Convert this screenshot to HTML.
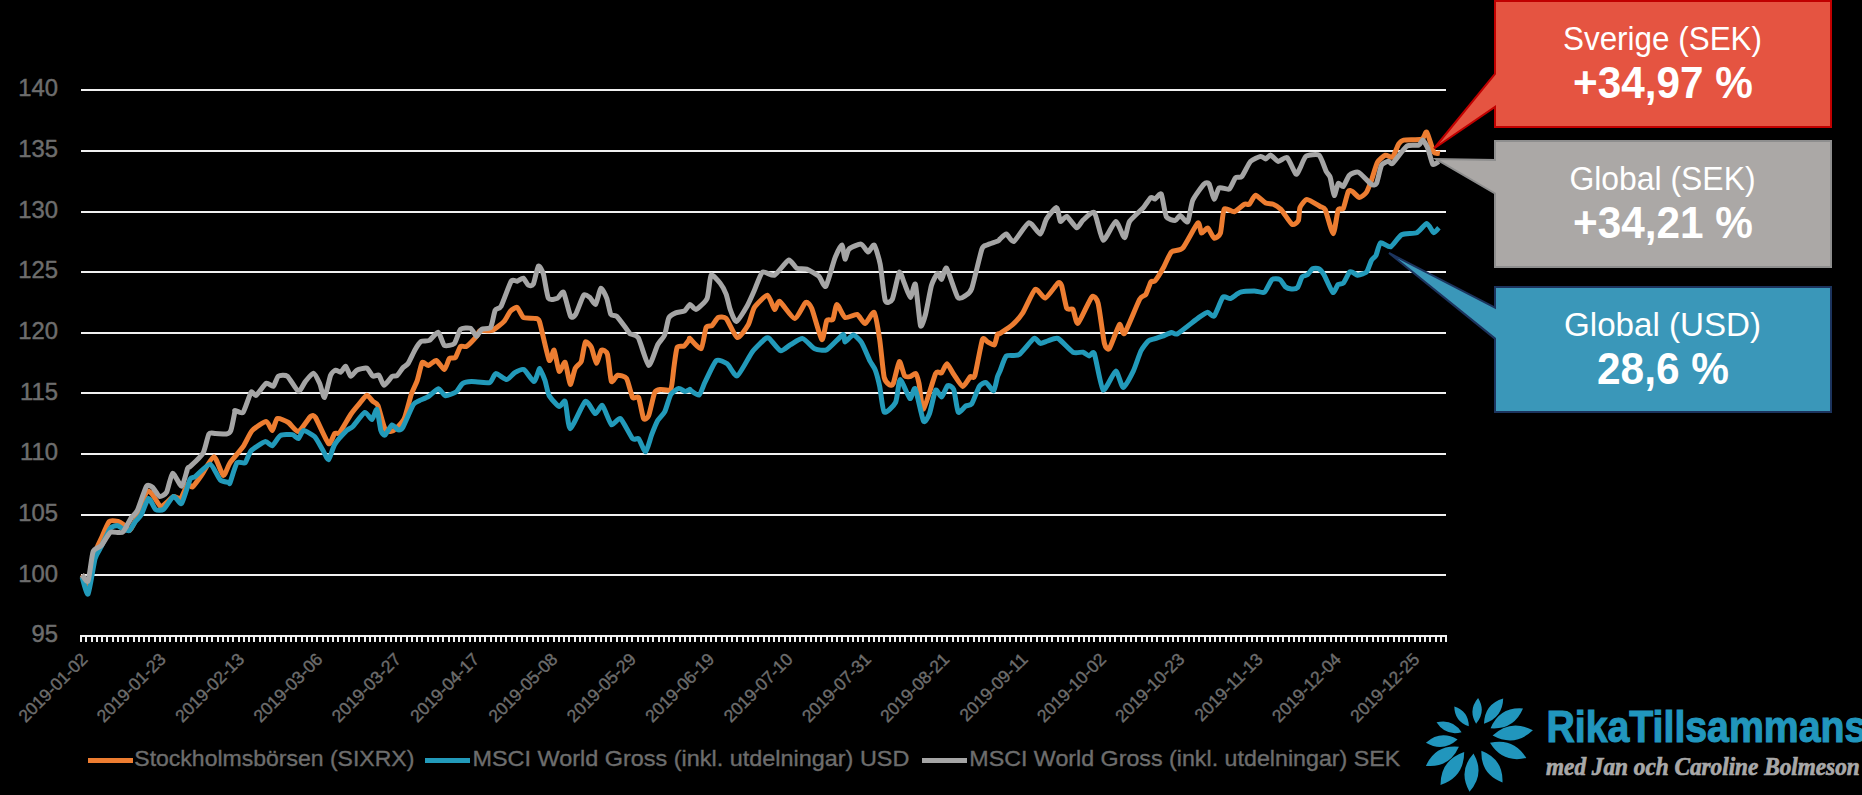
<!DOCTYPE html><html><head><meta charset="utf-8"><style>
html,body{margin:0;padding:0;background:#000;width:1862px;height:795px;overflow:hidden}
svg{display:block}
text{font-family:"Liberation Sans",sans-serif}
</style></head><body>
<svg width="1862" height="795" viewBox="0 0 1862 795">
<rect x="0" y="0" width="1862" height="795" fill="#000"/>
<rect x="81" y="89" width="1365" height="2" fill="#F0F0F0"/>
<rect x="81" y="150" width="1365" height="2" fill="#F0F0F0"/>
<rect x="81" y="211" width="1365" height="2" fill="#F0F0F0"/>
<rect x="81" y="271" width="1365" height="2" fill="#F0F0F0"/>
<rect x="81" y="332" width="1365" height="2" fill="#F0F0F0"/>
<rect x="81" y="392" width="1365" height="2" fill="#F0F0F0"/>
<rect x="81" y="453" width="1365" height="2" fill="#F0F0F0"/>
<rect x="81" y="514" width="1365" height="2" fill="#F0F0F0"/>
<rect x="81" y="574" width="1365" height="2" fill="#F0F0F0"/>
<rect x="81" y="635" width="1366" height="2" fill="#F0F0F0"/>
<path d="M81 635V642M86 635V642M92 635V642M97 635V642M102 635V642M107 635V642M113 635V642M118 635V642M123 635V642M128 635V642M134 635V642M139 635V642M144 635V642M149 635V642M155 635V642M160 635V642M165 635V642M170 635V642M176 635V642M181 635V642M186 635V642M191 635V642M197 635V642M202 635V642M207 635V642M212 635V642M218 635V642M223 635V642M228 635V642M233 635V642M239 635V642M244 635V642M249 635V642M254 635V642M260 635V642M265 635V642M270 635V642M275 635V642M281 635V642M286 635V642M291 635V642M296 635V642M302 635V642M307 635V642M312 635V642M317 635V642M323 635V642M328 635V642M333 635V642M338 635V642M344 635V642M349 635V642M354 635V642M359 635V642M365 635V642M370 635V642M375 635V642M380 635V642M386 635V642M391 635V642M396 635V642M401 635V642M407 635V642M412 635V642M417 635V642M422 635V642M428 635V642M433 635V642M438 635V642M443 635V642M449 635V642M454 635V642M459 635V642M464 635V642M470 635V642M475 635V642M480 635V642M485 635V642M491 635V642M496 635V642M501 635V642M506 635V642M512 635V642M517 635V642M522 635V642M527 635V642M533 635V642M538 635V642M543 635V642M548 635V642M554 635V642M559 635V642M564 635V642M569 635V642M575 635V642M580 635V642M585 635V642M590 635V642M596 635V642M601 635V642M606 635V642M611 635V642M617 635V642M622 635V642M627 635V642M632 635V642M638 635V642M643 635V642M648 635V642M653 635V642M659 635V642M664 635V642M669 635V642M674 635V642M680 635V642M685 635V642M690 635V642M695 635V642M701 635V642M706 635V642M711 635V642M716 635V642M722 635V642M727 635V642M732 635V642M737 635V642M743 635V642M748 635V642M753 635V642M758 635V642M764 635V642M769 635V642M774 635V642M779 635V642M785 635V642M790 635V642M795 635V642M800 635V642M806 635V642M811 635V642M816 635V642M821 635V642M827 635V642M832 635V642M837 635V642M842 635V642M848 635V642M853 635V642M858 635V642M863 635V642M869 635V642M874 635V642M879 635V642M884 635V642M890 635V642M895 635V642M900 635V642M905 635V642M911 635V642M916 635V642M921 635V642M926 635V642M932 635V642M937 635V642M942 635V642M947 635V642M953 635V642M958 635V642M963 635V642M968 635V642M974 635V642M979 635V642M984 635V642M989 635V642M995 635V642M1000 635V642M1005 635V642M1010 635V642M1016 635V642M1021 635V642M1026 635V642M1031 635V642M1037 635V642M1042 635V642M1047 635V642M1052 635V642M1058 635V642M1063 635V642M1068 635V642M1073 635V642M1079 635V642M1084 635V642M1089 635V642M1094 635V642M1100 635V642M1105 635V642M1110 635V642M1115 635V642M1121 635V642M1126 635V642M1131 635V642M1136 635V642M1142 635V642M1147 635V642M1152 635V642M1157 635V642M1163 635V642M1168 635V642M1173 635V642M1178 635V642M1184 635V642M1189 635V642M1194 635V642M1199 635V642M1205 635V642M1210 635V642M1215 635V642M1220 635V642M1226 635V642M1231 635V642M1236 635V642M1241 635V642M1247 635V642M1252 635V642M1257 635V642M1262 635V642M1268 635V642M1273 635V642M1278 635V642M1283 635V642M1289 635V642M1294 635V642M1299 635V642M1304 635V642M1310 635V642M1315 635V642M1320 635V642M1325 635V642M1331 635V642M1336 635V642M1341 635V642M1346 635V642M1352 635V642M1357 635V642M1362 635V642M1367 635V642M1373 635V642M1378 635V642M1383 635V642M1388 635V642M1394 635V642M1399 635V642M1404 635V642M1409 635V642M1415 635V642M1420 635V642M1425 635V642M1430 635V642M1436 635V642M1441 635V642M1446 635V642" stroke="#F0F0F0" stroke-width="2" fill="none"/>
<text x="57.9" y="642.4" text-anchor="end" font-size="23.8" fill="#6D6D6D" stroke="#6D6D6D" stroke-width="0.45">95</text>
<text x="57.9" y="581.7" text-anchor="end" font-size="23.8" fill="#6D6D6D" stroke="#6D6D6D" stroke-width="0.45">100</text>
<text x="57.9" y="521.1" text-anchor="end" font-size="23.8" fill="#6D6D6D" stroke="#6D6D6D" stroke-width="0.45">105</text>
<text x="57.9" y="460.4" text-anchor="end" font-size="23.8" fill="#6D6D6D" stroke="#6D6D6D" stroke-width="0.45">110</text>
<text x="57.9" y="399.7" text-anchor="end" font-size="23.8" fill="#6D6D6D" stroke="#6D6D6D" stroke-width="0.45">115</text>
<text x="57.9" y="339.1" text-anchor="end" font-size="23.8" fill="#6D6D6D" stroke="#6D6D6D" stroke-width="0.45">120</text>
<text x="57.9" y="278.4" text-anchor="end" font-size="23.8" fill="#6D6D6D" stroke="#6D6D6D" stroke-width="0.45">125</text>
<text x="57.9" y="217.7" text-anchor="end" font-size="23.8" fill="#6D6D6D" stroke="#6D6D6D" stroke-width="0.45">130</text>
<text x="57.9" y="157.1" text-anchor="end" font-size="23.8" fill="#6D6D6D" stroke="#6D6D6D" stroke-width="0.45">135</text>
<text x="57.9" y="96.4" text-anchor="end" font-size="23.8" fill="#6D6D6D" stroke="#6D6D6D" stroke-width="0.45">140</text>
<text transform="translate(88.6,660.3) rotate(-45)" text-anchor="end" font-size="17.4" fill="#6D6D6D" stroke="#6D6D6D" stroke-width="0.4">2019-01-02</text>
<text transform="translate(166.9,660.3) rotate(-45)" text-anchor="end" font-size="17.4" fill="#6D6D6D" stroke="#6D6D6D" stroke-width="0.4">2019-01-23</text>
<text transform="translate(245.3,660.3) rotate(-45)" text-anchor="end" font-size="17.4" fill="#6D6D6D" stroke="#6D6D6D" stroke-width="0.4">2019-02-13</text>
<text transform="translate(323.6,660.3) rotate(-45)" text-anchor="end" font-size="17.4" fill="#6D6D6D" stroke="#6D6D6D" stroke-width="0.4">2019-03-06</text>
<text transform="translate(402.0,660.3) rotate(-45)" text-anchor="end" font-size="17.4" fill="#6D6D6D" stroke="#6D6D6D" stroke-width="0.4">2019-03-27</text>
<text transform="translate(480.4,660.3) rotate(-45)" text-anchor="end" font-size="17.4" fill="#6D6D6D" stroke="#6D6D6D" stroke-width="0.4">2019-04-17</text>
<text transform="translate(558.7,660.3) rotate(-45)" text-anchor="end" font-size="17.4" fill="#6D6D6D" stroke="#6D6D6D" stroke-width="0.4">2019-05-08</text>
<text transform="translate(637.0,660.3) rotate(-45)" text-anchor="end" font-size="17.4" fill="#6D6D6D" stroke="#6D6D6D" stroke-width="0.4">2019-05-29</text>
<text transform="translate(715.4,660.3) rotate(-45)" text-anchor="end" font-size="17.4" fill="#6D6D6D" stroke="#6D6D6D" stroke-width="0.4">2019-06-19</text>
<text transform="translate(793.8,660.3) rotate(-45)" text-anchor="end" font-size="17.4" fill="#6D6D6D" stroke="#6D6D6D" stroke-width="0.4">2019-07-10</text>
<text transform="translate(872.1,660.3) rotate(-45)" text-anchor="end" font-size="17.4" fill="#6D6D6D" stroke="#6D6D6D" stroke-width="0.4">2019-07-31</text>
<text transform="translate(950.4,660.3) rotate(-45)" text-anchor="end" font-size="17.4" fill="#6D6D6D" stroke="#6D6D6D" stroke-width="0.4">2019-08-21</text>
<text transform="translate(1028.8,660.3) rotate(-45)" text-anchor="end" font-size="17.4" fill="#6D6D6D" stroke="#6D6D6D" stroke-width="0.4">2019-09-11</text>
<text transform="translate(1107.1,660.3) rotate(-45)" text-anchor="end" font-size="17.4" fill="#6D6D6D" stroke="#6D6D6D" stroke-width="0.4">2019-10-02</text>
<text transform="translate(1185.5,660.3) rotate(-45)" text-anchor="end" font-size="17.4" fill="#6D6D6D" stroke="#6D6D6D" stroke-width="0.4">2019-10-23</text>
<text transform="translate(1263.8,660.3) rotate(-45)" text-anchor="end" font-size="17.4" fill="#6D6D6D" stroke="#6D6D6D" stroke-width="0.4">2019-11-13</text>
<text transform="translate(1342.2,660.3) rotate(-45)" text-anchor="end" font-size="17.4" fill="#6D6D6D" stroke="#6D6D6D" stroke-width="0.4">2019-12-04</text>
<text transform="translate(1420.5,660.3) rotate(-45)" text-anchor="end" font-size="17.4" fill="#6D6D6D" stroke="#6D6D6D" stroke-width="0.4">2019-12-25</text>
<path d="M82.0 574.8C82.6 575.8 86.7 587.2 88.0 585.0C89.3 582.8 93.8 557.3 95.1 552.7C96.4 548.1 99.8 541.7 101.2 538.6C102.6 535.5 107.5 523.2 109.2 521.5C110.9 519.8 116.9 521.2 118.3 521.5C119.7 521.8 122.2 523.6 123.3 524.5C124.4 525.4 128.1 531.0 129.3 530.6C130.5 530.2 133.7 524.3 135.4 520.5C137.1 516.7 144.8 495.0 146.4 492.3C148.0 489.6 150.1 491.9 151.5 493.3C152.9 494.7 159.0 505.5 160.5 506.4C162.0 507.3 165.3 503.4 166.6 502.4C167.9 501.4 172.2 496.8 173.6 496.4C175.0 496.0 179.3 499.6 180.7 498.4C182.1 497.2 186.5 485.4 187.7 484.3C188.9 483.2 191.1 487.8 192.5 486.9C193.9 486.0 199.2 478.5 201.3 475.5C203.4 472.5 211.7 456.7 213.9 456.7C216.1 456.7 221.7 474.9 223.3 475.5C224.9 476.1 228.0 465.7 230.0 462.8C232.0 459.9 240.9 449.9 243.1 446.7C245.3 443.5 249.8 433.1 252.1 430.6C254.4 428.1 264.2 421.5 266.2 421.5C268.2 421.5 271.2 430.9 272.3 430.6C273.4 430.3 275.7 419.3 277.3 418.5C278.9 417.7 286.3 421.2 288.4 422.5C290.5 423.8 296.2 432.2 298.4 431.6C300.6 431.0 308.8 417.9 310.5 416.5C312.2 415.1 313.7 414.8 315.5 417.5C317.3 420.2 326.7 442.0 328.6 443.6C330.5 445.2 333.5 434.7 334.6 433.6C335.7 432.5 338.1 434.5 339.7 432.6C341.3 430.7 348.8 417.3 350.7 414.5C352.6 411.7 357.2 406.3 358.8 404.4C360.4 402.5 365.4 395.6 366.8 395.3C368.2 395.0 371.8 400.4 372.9 401.4C374.0 402.4 376.7 402.6 377.9 405.4C379.1 408.1 383.5 426.3 385.0 428.9C386.5 431.4 391.1 431.9 393.0 430.9C394.9 429.9 402.3 422.5 404.1 418.9C405.9 415.3 409.9 398.5 411.2 394.7C412.5 390.9 416.1 383.8 417.2 380.6C418.3 377.4 421.1 364.0 422.2 362.5C423.3 361.0 426.9 365.7 428.3 365.5C429.7 365.3 434.7 360.1 436.3 360.5C437.9 360.9 443.1 369.8 444.4 369.6C445.7 369.4 448.3 359.7 449.4 358.5C450.5 357.3 454.3 358.7 455.4 357.5C456.5 356.3 459.4 347.5 460.5 346.4C461.6 345.3 464.9 347.4 466.5 346.4C468.1 345.4 475.2 337.9 476.6 336.3C478.0 334.7 478.4 331.1 480.0 330.5C481.6 329.9 489.7 331.4 492.1 330.5C494.5 329.6 502.3 323.3 504.1 321.4C505.9 319.5 508.9 312.8 510.2 311.4C511.5 310.0 515.9 306.8 517.2 307.4C518.5 308.0 521.6 316.3 523.3 317.4C525.0 318.5 532.7 318.0 534.3 318.4C535.9 318.8 537.9 317.2 539.4 321.4C540.9 325.6 547.6 357.3 549.1 360.2C550.6 363.1 553.1 349.1 554.1 350.2C555.1 351.3 558.0 370.1 559.1 371.3C560.2 372.5 564.1 361.0 565.2 362.3C566.3 363.6 569.2 383.8 570.2 384.4C571.2 385.0 574.1 370.6 575.2 368.3C576.3 366.0 580.3 363.9 581.3 361.3C582.3 358.7 584.3 343.5 585.3 342.1C586.3 340.7 590.2 345.1 591.3 347.2C592.4 349.3 595.4 363.0 596.4 363.3C597.4 363.6 600.3 351.1 601.4 350.2C602.5 349.3 606.4 351.1 607.4 354.2C608.4 357.3 610.4 379.3 611.4 381.4C612.4 383.5 616.0 375.6 617.5 375.3C619.0 375.0 625.0 376.2 626.5 378.4C628.0 380.6 631.4 395.6 632.6 397.5C633.8 399.4 637.5 395.4 638.6 397.5C639.7 399.6 642.6 416.8 643.6 418.6C644.6 420.4 647.6 418.2 648.7 415.6C649.8 413.0 653.5 395.1 654.7 392.5C655.9 389.9 659.1 389.7 660.7 389.4C662.3 389.1 669.5 391.5 670.8 389.4C672.1 387.3 673.2 372.5 673.8 368.3C674.4 364.1 676.1 349.7 677.1 347.5C678.1 345.3 682.8 346.9 684.0 346.1C685.2 345.3 688.9 339.9 689.5 339.2C690.1 338.4 688.8 337.7 690.0 338.6C691.2 339.6 699.5 349.8 701.1 348.7C702.7 347.6 705.0 329.8 706.1 327.5C707.2 325.2 710.9 326.5 712.1 325.5C713.3 324.5 716.8 318.2 718.2 317.5C719.6 316.8 724.3 316.5 726.2 318.5C728.1 320.5 735.1 337.0 737.3 337.6C739.5 338.2 746.7 327.5 748.4 324.5C750.1 321.5 752.5 310.3 754.4 307.4C756.3 304.5 765.5 295.1 767.5 295.3C769.5 295.5 773.3 308.8 774.5 309.4C775.7 310.0 777.6 300.5 779.6 301.4C781.6 302.3 792.0 318.4 794.6 318.5C797.2 318.6 804.0 303.4 805.7 302.4C807.4 301.4 810.2 304.7 811.8 308.4C813.4 312.1 820.3 338.4 821.8 339.6C823.3 340.8 825.7 322.5 826.8 320.5C827.9 318.5 831.9 321.1 832.9 319.5C833.9 317.9 835.7 304.6 836.9 304.4C838.1 304.2 843.0 316.5 845.0 317.5C847.0 318.5 855.1 313.9 857.1 314.5C859.1 315.1 863.4 323.8 865.1 323.6C866.8 323.4 872.7 310.9 874.2 312.5C875.7 314.1 878.7 333.1 879.7 339.6C880.7 346.1 883.2 372.9 884.2 377.4C885.2 381.9 888.6 384.3 889.5 384.9C890.4 385.5 892.3 385.7 893.3 383.4C894.3 381.1 898.2 362.3 899.3 361.5C900.4 360.7 903.5 374.3 904.6 375.8C905.7 377.3 908.8 376.8 909.9 376.6C911.0 376.4 915.0 372.9 915.9 373.6C916.8 374.3 918.2 379.8 919.0 383.4C919.8 386.9 921.8 410.1 923.5 409.1C925.2 408.1 933.8 377.2 935.6 373.6C937.4 370.0 940.5 373.8 941.6 372.8C942.7 371.8 945.7 363.7 946.9 363.8C948.1 363.9 952.1 372.0 953.7 374.3C955.3 376.6 961.0 386.2 962.7 386.4C964.4 386.6 969.1 377.7 970.3 376.6C971.5 375.5 973.6 379.5 974.8 375.8C976.0 372.1 981.1 343.0 982.4 339.6C983.7 336.2 986.4 341.4 987.6 341.9C988.8 342.4 993.4 345.7 994.4 344.9C995.4 344.1 996.9 335.4 997.5 334.3C998.1 333.2 998.5 334.4 1000.0 333.4C1001.5 332.4 1010.3 326.6 1012.6 324.6C1014.9 322.6 1020.3 316.7 1022.6 313.2C1024.9 309.7 1032.9 290.8 1035.2 289.3C1037.5 287.8 1043.0 298.7 1045.3 298.1C1047.6 297.5 1056.3 284.4 1057.9 283.1C1059.5 281.9 1060.7 283.1 1061.6 285.6C1062.5 288.1 1065.6 305.8 1066.7 308.2C1067.8 310.6 1071.9 308.0 1073.0 309.5C1074.1 311.0 1076.1 324.6 1078.0 323.3C1079.9 322.0 1089.8 298.9 1091.8 296.9C1093.8 294.9 1096.8 298.6 1098.1 303.2C1099.4 307.8 1103.3 338.9 1104.4 343.4C1105.5 347.9 1107.9 350.4 1109.4 348.5C1110.9 346.6 1118.0 326.1 1119.5 324.6C1121.0 323.1 1122.5 335.9 1124.5 333.4C1126.5 330.9 1137.5 303.3 1139.6 299.4C1141.7 295.5 1144.8 296.2 1145.9 294.4C1147.0 292.6 1150.0 283.2 1150.9 281.8C1151.8 280.4 1153.7 282.4 1155.0 280.9C1156.3 279.4 1162.2 269.9 1163.8 267.0C1165.4 264.1 1169.5 253.9 1171.4 252.0C1173.3 250.1 1180.1 251.1 1182.7 248.2C1185.3 245.3 1195.9 224.5 1197.8 223.0C1199.7 221.5 1200.5 232.6 1201.5 233.1C1202.5 233.6 1206.5 227.6 1207.8 228.1C1209.1 228.6 1212.8 237.6 1214.1 238.1C1215.4 238.6 1219.4 236.0 1220.4 233.1C1221.4 230.2 1222.8 211.3 1224.2 209.2C1225.6 207.1 1232.2 212.2 1234.2 211.7C1236.2 211.2 1242.8 204.9 1244.3 204.2C1245.8 203.4 1248.2 205.1 1249.3 204.2C1250.4 203.3 1254.0 195.4 1255.6 195.3C1257.2 195.2 1263.9 202.0 1265.7 202.9C1267.5 203.8 1271.7 203.6 1273.2 204.2C1274.7 204.8 1278.9 207.2 1280.8 209.2C1282.7 211.2 1290.3 223.2 1292.1 224.3C1293.9 225.4 1297.6 222.2 1298.4 220.5C1299.2 218.8 1299.1 209.6 1300.0 207.5C1300.9 205.4 1305.0 199.6 1307.0 199.5C1309.0 199.4 1318.3 205.5 1320.1 206.5C1321.9 207.5 1323.9 206.9 1325.2 209.6C1326.5 212.3 1331.9 233.7 1333.2 233.7C1334.5 233.7 1337.2 212.1 1338.2 209.6C1339.2 207.1 1342.3 210.3 1343.3 208.5C1344.3 206.7 1347.4 193.1 1348.3 191.4C1349.2 189.7 1351.2 190.8 1352.3 191.4C1353.4 192.0 1358.0 197.4 1359.4 197.5C1360.8 197.6 1365.2 194.1 1366.4 192.4C1367.6 190.7 1370.3 183.4 1371.4 180.4C1372.5 177.4 1376.1 164.8 1377.5 162.3C1378.9 159.8 1384.0 155.7 1385.5 155.2C1387.0 154.7 1391.3 158.3 1392.6 157.2C1393.9 156.1 1397.5 145.8 1398.6 144.1C1399.7 142.4 1401.3 140.6 1403.6 140.1C1405.9 139.6 1419.5 139.9 1421.8 139.1C1424.1 138.3 1425.6 130.8 1426.8 132.1C1428.0 133.4 1432.5 150.1 1433.8 152.2C1435.1 154.3 1439.3 153.1 1439.9 153.2" fill="none" stroke="#ED7D31" stroke-width="5" stroke-linejoin="round" stroke-linecap="butt"/>
<path d="M82.0 576.8C82.6 578.5 86.8 595.8 88.1 594.0C89.4 592.2 93.8 563.4 95.1 558.7C96.4 554.0 99.7 549.7 101.2 546.7C102.7 543.7 108.6 530.6 110.2 528.5C111.8 526.4 116.1 525.5 117.3 525.5C118.5 525.5 121.1 528.0 122.3 528.5C123.5 529.0 128.0 531.3 129.3 530.6C130.6 529.9 134.2 523.1 135.4 521.5C136.6 519.9 140.1 516.8 141.4 514.5C142.7 512.2 147.1 498.9 148.5 498.4C149.9 497.9 154.0 508.3 155.5 509.4C157.0 510.5 161.7 510.7 163.5 509.4C165.3 508.1 171.8 497.0 173.6 496.4C175.4 495.8 180.1 505.1 181.7 503.4C183.3 501.7 188.7 482.0 190.0 479.3C191.3 476.6 193.0 478.3 195.0 476.8C197.0 475.3 207.6 463.9 210.1 464.2C212.6 464.5 218.3 478.1 220.2 479.9C222.1 481.7 228.0 482.2 229.0 482.5C230.0 482.8 229.2 484.9 230.0 482.9C230.8 480.9 235.5 464.8 237.0 462.8C238.5 460.8 243.7 464.0 245.1 462.8C246.5 461.6 249.1 452.8 251.1 450.7C253.1 448.6 263.1 442.1 265.2 441.6C267.3 441.1 270.8 446.3 272.3 445.7C273.8 445.1 278.3 436.7 280.3 435.6C282.3 434.5 290.6 434.3 292.4 434.6C294.2 434.9 297.3 439.0 298.4 438.6C299.5 438.2 301.9 430.8 303.5 430.6C305.1 430.4 312.6 434.7 314.5 436.6C316.4 438.5 321.2 447.4 322.6 449.7C324.0 452.0 327.4 460.2 328.6 459.7C329.8 459.2 332.8 447.5 334.6 444.6C336.4 441.7 344.9 432.4 346.7 430.6C348.5 428.8 351.0 428.3 352.8 426.5C354.6 424.7 362.9 413.1 364.8 412.4C366.7 411.7 370.7 419.8 371.9 419.5C373.1 419.2 376.0 408.3 376.9 409.4C377.8 410.5 380.1 428.0 380.9 430.6C381.7 433.2 383.9 435.6 385.0 435.0C386.1 434.4 390.7 425.4 392.0 424.9C393.3 424.4 397.0 429.7 398.1 429.9C399.2 430.1 401.6 429.4 403.1 426.9C404.6 424.4 411.6 407.4 413.2 404.8C414.8 402.2 417.7 401.5 419.2 400.7C420.7 399.9 426.4 397.9 428.3 396.7C430.2 395.5 436.6 388.8 438.3 388.7C440.0 388.6 443.6 395.4 445.4 395.7C447.2 396.0 454.7 392.9 456.4 391.7C458.1 390.5 461.0 384.6 462.5 383.6C464.0 382.6 468.8 381.7 471.5 381.6C474.2 381.5 487.2 383.4 489.6 382.6C492.0 381.8 494.0 373.9 495.7 373.6C497.4 373.3 504.9 379.7 506.8 379.6C508.7 379.5 513.1 373.6 514.8 372.6C516.5 371.6 522.0 368.7 523.9 369.6C525.8 370.5 532.4 381.6 533.9 381.6C535.4 381.6 538.4 370.8 539.0 369.6C539.6 368.4 539.4 368.2 540.0 369.3C540.6 370.4 544.1 377.8 545.0 380.4C545.9 383.0 547.7 392.9 549.1 395.5C550.5 398.1 557.5 405.9 559.1 406.5C560.7 407.1 564.1 399.3 565.2 401.5C566.3 403.7 568.2 428.7 570.2 428.7C572.2 428.7 582.8 403.0 585.3 401.5C587.8 400.0 593.6 413.2 595.3 413.6C597.0 414.0 600.8 404.4 602.4 405.5C604.0 406.6 609.6 423.3 611.4 424.6C613.2 425.9 618.4 417.2 620.5 418.6C622.6 420.0 630.8 436.7 632.6 438.7C634.4 440.7 637.3 437.4 638.6 438.7C639.9 440.0 644.4 452.2 645.7 451.8C647.0 451.4 650.5 437.8 651.7 434.7C652.9 431.6 656.4 422.9 657.7 420.6C659.0 418.3 663.5 414.2 664.8 411.6C666.1 409.0 669.4 396.8 670.8 394.5C672.2 392.2 677.5 388.7 678.9 388.4C680.3 388.1 683.8 391.3 684.9 391.4C686.0 391.5 689.4 389.5 689.9 389.4C690.4 389.2 689.1 389.3 690.0 389.9C690.9 390.5 697.6 395.8 699.1 395.0C700.6 394.2 703.4 385.3 705.1 381.9C706.8 378.5 714.0 362.5 716.2 360.7C718.4 358.9 725.1 362.3 727.2 363.8C729.3 365.3 734.8 377.0 737.3 375.8C739.8 374.6 749.6 355.4 752.4 351.7C755.2 348.0 763.8 339.9 765.5 338.6C767.2 337.3 768.0 337.4 769.5 338.6C771.0 339.8 778.5 350.1 780.6 350.7C782.7 351.3 788.4 345.8 790.6 344.6C792.8 343.4 800.3 338.2 802.7 338.6C805.1 339.0 812.4 347.6 814.8 348.7C817.2 349.8 824.0 351.1 826.8 349.7C829.6 348.3 841.2 335.4 843.0 334.6C844.8 333.8 844.0 341.8 845.0 341.9C846.0 341.9 851.6 335.0 853.3 335.1C855.0 335.2 859.9 340.0 861.6 342.6C863.3 345.2 868.5 358.1 869.9 360.8C871.3 363.5 874.2 367.2 875.2 369.8C876.2 372.4 878.8 382.2 879.7 386.4C880.6 390.6 882.6 410.5 884.2 412.1C885.8 413.7 894.0 405.6 895.6 402.3C897.2 399.1 898.7 380.0 900.1 379.6C901.5 379.2 908.4 397.6 909.9 398.5C911.4 399.4 913.8 386.4 915.2 388.7C916.6 391.0 922.1 418.6 923.5 421.1C924.9 423.6 928.3 416.7 929.5 413.6C930.7 410.5 934.4 391.9 935.6 390.2C936.8 388.5 940.4 397.4 941.6 397.0C942.8 396.6 946.4 386.5 947.6 385.7C948.8 384.9 952.6 386.8 953.7 389.4C954.8 392.0 957.0 410.4 958.2 412.1C959.4 413.8 964.3 406.8 965.7 406.0C967.1 405.2 970.4 405.8 971.8 403.8C973.2 401.8 977.9 388.5 979.3 386.4C980.7 384.3 984.7 382.2 986.1 382.6C987.5 383.1 992.6 391.5 993.7 390.9C994.8 390.3 996.9 378.6 997.5 376.6C998.1 374.6 999.1 373.2 1000.0 371.1C1000.9 369.0 1004.4 357.6 1006.3 356.0C1008.2 354.4 1016.1 356.5 1018.9 354.7C1021.7 352.9 1031.9 339.5 1034.0 338.4C1036.1 337.3 1038.9 343.1 1040.3 343.4C1041.7 343.6 1046.0 341.4 1047.8 340.9C1049.6 340.4 1055.4 337.3 1057.9 338.4C1060.4 339.5 1070.5 350.8 1073.0 352.2C1075.5 353.6 1081.4 351.8 1083.0 352.2C1084.6 352.6 1088.2 355.9 1089.3 356.0C1090.4 356.1 1092.9 350.1 1094.3 353.5C1095.7 356.9 1101.0 388.2 1103.1 390.0C1105.2 391.8 1113.7 371.4 1115.7 371.1C1117.7 370.9 1121.5 387.5 1123.3 387.5C1125.1 387.5 1131.5 374.8 1133.3 371.1C1135.1 367.5 1139.4 354.0 1140.9 351.0C1142.4 348.0 1147.0 342.1 1148.4 340.9C1149.8 339.7 1153.6 339.2 1155.0 338.7C1156.4 338.2 1160.9 336.8 1162.5 336.2C1164.1 335.6 1169.9 332.8 1171.4 332.5C1172.9 332.2 1174.8 335.2 1177.6 333.7C1180.4 332.2 1196.0 319.5 1199.0 317.4C1202.0 315.3 1206.3 312.4 1207.8 312.3C1209.3 312.2 1212.6 317.6 1214.1 316.1C1215.6 314.6 1221.3 299.0 1222.9 297.2C1224.5 295.4 1228.7 299.0 1230.5 298.5C1232.3 298.0 1238.1 292.9 1240.5 292.2C1242.9 291.4 1252.0 291.0 1254.4 291.0C1256.8 291.0 1262.6 293.3 1264.4 292.2C1266.2 291.1 1270.4 280.9 1272.0 279.6C1273.6 278.3 1278.7 278.9 1280.0 279.6C1281.3 280.3 1284.2 285.8 1285.3 286.7C1286.4 287.6 1290.2 288.8 1291.4 288.9C1292.6 289.0 1296.5 288.7 1297.6 287.5C1298.7 286.3 1301.0 278.3 1302.0 277.0C1303.0 275.7 1306.2 275.6 1307.3 274.8C1308.4 274.0 1311.5 269.2 1312.6 268.6C1313.7 268.0 1317.6 268.0 1318.7 268.6C1319.8 269.2 1322.6 272.4 1324.0 274.8C1325.4 277.2 1331.4 291.4 1332.8 292.4C1334.2 293.4 1337.0 285.4 1338.1 284.5C1339.2 283.6 1342.3 284.3 1343.4 283.1C1344.5 281.9 1348.5 273.2 1349.5 272.1C1350.5 271.1 1352.3 272.3 1353.1 272.6C1353.9 272.9 1356.5 275.1 1357.5 275.2C1358.5 275.3 1361.7 274.3 1362.7 273.9C1363.7 273.5 1366.2 272.7 1367.1 271.3C1368.0 269.9 1370.6 261.8 1371.5 260.2C1372.4 258.6 1375.1 257.1 1376.0 255.4C1376.9 253.7 1379.0 243.7 1380.5 242.8C1382.0 241.9 1388.5 247.6 1390.6 246.8C1392.7 246.0 1399.0 236.1 1401.6 234.7C1404.2 233.3 1414.2 233.8 1416.7 232.7C1419.2 231.6 1425.1 223.6 1426.8 223.6C1428.5 223.6 1432.6 232.3 1433.8 232.7C1435.0 233.1 1438.4 228.2 1438.9 227.7" fill="none" stroke="#229ABA" stroke-width="5" stroke-linejoin="round" stroke-linecap="butt"/>
<path d="M82.0 574.8C82.6 575.4 87.0 583.2 88.1 580.9C89.2 578.6 91.8 555.2 93.1 551.7C94.4 548.2 99.5 547.6 101.2 545.7C102.9 543.8 108.5 533.9 110.2 532.6C111.9 531.3 117.0 532.7 118.3 532.6C119.6 532.5 122.0 533.1 123.3 531.6C124.6 530.1 130.0 519.6 131.4 517.5C132.8 515.4 135.9 513.5 137.4 510.4C138.9 507.3 144.9 488.6 146.4 486.3C147.9 484.0 151.2 486.3 152.5 487.3C153.8 488.3 158.1 495.9 159.5 496.4C160.9 496.9 165.3 494.6 166.6 492.3C167.9 490.0 171.1 473.8 172.6 473.2C174.1 472.6 180.2 486.8 181.7 486.3C183.2 485.8 186.9 470.2 187.7 468.2C188.5 466.2 188.4 468.2 190.0 466.7C191.6 465.2 201.3 456.2 203.2 452.9C205.1 449.6 207.7 435.9 208.9 434.0C210.1 432.1 213.4 433.4 215.2 433.4C217.0 433.4 224.9 434.3 226.5 434.0C228.1 433.7 230.1 432.4 230.9 430.3C231.7 428.2 234.3 414.6 234.7 412.6C235.1 410.6 234.2 410.4 235.0 410.4C235.8 410.4 241.5 414.2 243.1 412.4C244.7 410.6 249.8 394.0 251.1 392.3C252.4 390.6 254.7 396.2 256.2 395.3C257.7 394.4 264.5 384.2 266.2 383.3C267.9 382.4 272.1 387.0 273.3 386.3C274.5 385.6 276.9 377.2 278.3 376.2C279.7 375.2 285.4 374.7 287.4 376.2C289.4 377.7 296.6 390.8 298.4 391.3C300.2 391.8 304.0 383.1 305.5 381.3C307.0 379.5 312.1 373.0 313.5 373.2C314.9 373.4 318.5 380.9 319.6 383.3C320.7 385.7 323.5 398.2 324.6 397.4C325.7 396.6 329.5 377.9 330.6 375.2C331.7 372.5 334.7 370.5 335.7 370.2C336.7 369.9 339.7 372.6 340.7 372.2C341.7 371.8 344.7 365.8 345.7 366.2C346.7 366.6 349.6 375.8 350.7 376.2C351.8 376.6 355.2 371.0 356.8 370.2C358.4 369.4 365.2 367.6 366.8 368.2C368.4 368.8 371.7 375.5 372.9 376.2C374.1 376.9 377.8 374.3 378.9 375.2C380.0 376.1 382.7 385.2 384.0 385.3C385.3 385.4 390.7 377.6 392.0 376.6C393.3 375.6 396.0 376.5 397.1 375.6C398.2 374.7 402.0 368.7 403.1 367.5C404.2 366.3 406.9 365.3 408.1 363.5C409.3 361.7 413.9 351.6 415.2 349.4C416.5 347.2 419.8 342.3 421.2 341.4C422.6 340.5 427.6 341.3 429.3 340.4C431.0 339.5 436.8 331.8 438.3 332.3C439.8 332.8 442.8 344.3 444.4 345.4C446.0 346.5 452.8 345.0 454.4 343.4C456.0 341.8 458.9 330.8 460.5 329.3C462.1 327.8 468.9 327.6 470.5 328.3C472.1 329.0 475.5 336.2 476.6 336.3C477.7 336.4 480.2 330.2 481.6 329.3C483.0 328.4 489.3 329.2 490.7 327.3C492.1 325.4 494.1 312.5 495.1 310.4C496.1 308.3 499.5 309.2 501.1 306.3C502.7 303.4 509.6 283.7 511.2 281.2C512.8 278.7 516.0 281.5 517.2 281.2C518.4 280.9 522.2 277.8 523.3 278.2C524.4 278.6 527.3 284.6 528.3 285.2C529.3 285.8 532.3 286.1 533.3 284.2C534.3 282.3 537.4 267.1 538.4 266.1C539.4 265.1 542.4 270.9 543.4 274.1C544.4 277.3 547.0 295.9 548.4 298.3C549.8 300.7 556.0 298.9 557.5 298.3C559.0 297.7 562.2 290.5 563.5 292.3C564.8 294.1 569.4 314.2 570.6 316.4C571.8 318.6 574.3 316.5 575.6 314.4C576.9 312.3 582.2 297.0 583.6 295.3C585.0 293.6 588.5 296.4 589.7 297.3C590.9 298.2 594.6 305.2 595.7 304.3C596.8 303.4 599.7 288.8 600.8 288.2C601.9 287.6 605.8 295.7 606.8 298.3C607.8 300.9 609.8 312.6 610.8 314.4C611.8 316.2 615.2 314.9 616.8 316.4C618.4 317.9 625.6 327.8 626.9 329.5C628.2 331.2 628.9 332.9 630.0 333.7C631.1 334.5 636.4 334.6 638.3 337.8C640.2 341.0 646.8 364.8 648.7 365.5C650.6 366.2 656.1 347.7 657.7 344.7C659.3 341.7 663.5 337.8 664.6 335.1C665.7 332.4 667.7 320.0 668.8 317.8C669.9 315.6 674.1 313.6 675.7 312.9C677.3 312.2 683.3 311.7 684.7 310.8C686.1 309.9 688.9 304.5 690.0 304.4C691.1 304.3 694.3 310.0 696.0 309.4C697.7 308.8 705.6 301.8 707.1 298.4C708.6 295.0 709.8 276.7 711.1 275.2C712.4 273.7 718.7 281.4 720.2 283.3C721.7 285.2 725.2 291.7 726.2 294.3C727.2 296.9 729.2 306.7 730.2 309.4C731.2 312.1 734.6 321.9 736.3 321.5C738.0 321.1 745.6 308.5 747.4 305.4C749.2 302.3 752.9 293.6 754.4 290.3C755.9 287.0 760.4 273.7 762.4 272.2C764.4 270.7 771.9 276.4 774.5 275.2C777.1 274.0 786.4 260.8 788.6 260.1C790.8 259.4 794.9 267.3 796.7 268.2C798.5 269.1 804.5 268.4 806.7 269.2C808.9 270.0 816.9 274.5 818.8 276.2C820.7 277.9 824.2 288.1 825.8 286.3C827.4 284.5 833.3 262.2 834.9 258.1C836.5 254.0 840.9 244.9 841.9 245.0C842.9 245.1 844.3 258.8 845.0 259.2C845.7 259.6 847.4 250.6 849.0 249.1C850.6 247.6 859.2 243.8 861.1 244.1C863.0 244.4 866.8 252.0 868.1 252.1C869.4 252.2 873.0 243.9 874.2 245.1C875.4 246.3 879.1 258.7 880.2 264.2C881.3 269.7 884.0 296.9 885.2 300.4C886.4 303.9 890.9 302.2 892.3 299.4C893.7 296.6 898.1 273.9 899.3 272.3C900.5 270.7 903.3 280.8 904.4 283.3C905.5 285.8 909.3 297.3 910.4 297.4C911.5 297.5 914.4 281.5 915.4 284.3C916.4 287.1 919.5 322.6 920.5 325.6C921.5 328.6 924.4 318.5 925.5 314.5C926.6 310.5 930.3 289.4 931.5 285.3C932.7 281.2 936.6 273.9 937.6 273.3C938.6 272.7 940.7 279.8 941.6 279.3C942.5 278.8 945.0 266.4 946.6 268.2C948.2 270.0 955.8 294.7 957.7 297.4C959.6 300.1 964.3 296.3 965.7 295.4C967.1 294.5 970.2 293.0 971.8 288.4C973.4 283.8 980.4 253.4 981.9 249.1C983.4 244.8 985.3 245.9 986.9 245.1C988.5 244.3 996.6 241.7 997.9 241.1C999.2 240.5 999.2 239.7 1000.0 239.0C1000.8 238.3 1004.9 233.8 1006.3 234.0C1007.7 234.2 1011.5 242.6 1013.8 241.5C1016.1 240.4 1026.2 223.4 1028.9 222.7C1031.6 221.9 1038.5 234.4 1040.3 234.0C1042.1 233.6 1044.9 221.5 1046.5 218.9C1048.1 216.3 1055.2 207.3 1056.6 207.6C1058.0 207.8 1059.4 220.5 1060.4 221.4C1061.4 222.3 1065.1 215.8 1066.7 216.4C1068.3 217.0 1075.1 227.3 1076.7 227.7C1078.3 228.1 1081.2 221.7 1083.0 220.2C1084.8 218.7 1092.3 210.6 1094.3 212.6C1096.3 214.6 1101.0 239.4 1103.1 240.3C1105.2 241.2 1113.6 221.7 1115.7 221.4C1117.8 221.2 1123.1 237.8 1124.5 237.8C1125.9 237.8 1127.7 224.4 1129.6 221.4C1131.5 218.4 1141.3 210.0 1143.4 207.6C1145.5 205.2 1149.7 198.3 1150.9 197.5C1152.1 196.7 1154.0 199.4 1155.0 199.1C1156.0 198.8 1160.2 192.3 1161.3 194.1C1162.4 195.9 1164.9 214.1 1166.3 216.7C1167.7 219.3 1173.7 220.6 1175.1 220.5C1176.5 220.4 1178.9 215.4 1180.2 215.5C1181.5 215.6 1186.5 223.3 1187.7 221.8C1189.0 220.3 1191.1 204.2 1192.7 200.4C1194.3 196.6 1202.5 185.6 1204.1 184.0C1205.7 182.4 1208.1 182.5 1209.1 184.0C1210.1 185.5 1213.1 198.7 1214.1 199.1C1215.1 199.5 1217.7 188.8 1219.2 187.8C1220.7 186.8 1227.6 190.1 1229.2 189.1C1230.8 188.1 1234.2 179.0 1235.5 177.7C1236.8 176.4 1240.3 178.1 1241.8 176.5C1243.3 174.9 1248.7 163.4 1250.6 161.4C1252.5 159.4 1259.2 156.7 1260.7 156.4C1262.2 156.2 1264.7 159.0 1265.7 158.9C1266.7 158.8 1269.4 154.8 1270.7 155.1C1272.0 155.3 1276.7 161.2 1278.3 161.4C1279.9 161.7 1285.3 156.3 1287.1 157.6C1288.9 158.9 1294.6 172.9 1295.9 174.0C1297.2 175.1 1299.0 170.1 1300.0 168.3C1301.0 166.5 1304.1 157.5 1306.0 156.2C1307.9 154.9 1317.1 153.7 1319.1 155.2C1321.1 156.7 1325.1 169.1 1326.2 171.3C1327.3 173.5 1329.4 175.0 1330.2 177.4C1331.0 179.8 1333.4 194.9 1334.2 195.5C1335.0 196.1 1337.3 184.3 1338.2 183.4C1339.1 182.5 1342.2 187.2 1343.3 186.4C1344.4 185.6 1347.8 176.7 1349.3 175.3C1350.8 173.9 1356.2 171.4 1358.4 172.3C1360.6 173.2 1369.6 183.3 1371.4 184.4C1373.2 185.5 1375.5 185.3 1376.5 183.4C1377.5 181.5 1380.3 167.5 1381.5 165.3C1382.7 163.1 1387.4 161.5 1388.5 161.3C1389.6 161.1 1390.8 164.8 1392.6 163.3C1394.4 161.8 1404.1 148.0 1406.7 146.2C1409.3 144.4 1417.1 145.8 1418.7 145.2C1420.3 144.6 1421.9 139.8 1422.8 140.1C1423.7 140.4 1426.8 145.8 1427.8 148.2C1428.8 150.6 1431.7 163.0 1432.8 164.3C1433.9 165.6 1438.3 161.6 1438.9 161.3" fill="none" stroke="#A5A5A5" stroke-width="5" stroke-linejoin="round" stroke-linecap="butt"/>
<path d="M1495 1 H1831 V127 H1495 V107 L1434 148.5 L1495 74 Z" fill="#E55441" stroke="#C00000" stroke-width="2" stroke-linejoin="miter"/>
<text x="1563" y="49.6" font-size="34" fill="#fff" textLength="199" lengthAdjust="spacingAndGlyphs">Sverige (SEK)</text>
<text x="1573" y="97.9" font-size="43.5" font-weight="bold" fill="#fff" textLength="180" lengthAdjust="spacingAndGlyphs">+34,97 %</text>
<path d="M1495 141 H1831 V267 H1495 V193.5 L1436 159 L1495 160 Z" fill="#ABA8A6" stroke="#8E8E8E" stroke-width="2" stroke-linejoin="miter"/>
<text x="1569.5" y="189.9" font-size="34" fill="#fff" textLength="186" lengthAdjust="spacingAndGlyphs">Global (SEK)</text>
<text x="1573" y="237.9" font-size="43.5" font-weight="bold" fill="#fff" textLength="180" lengthAdjust="spacingAndGlyphs">+34,21 %</text>
<path d="M1495 287 H1831 V412 H1495 V338.6 L1389 253 L1495 307.6 Z" fill="#3A97B9" stroke="#1C345E" stroke-width="2" stroke-linejoin="miter"/>
<text x="1564" y="335.9" font-size="34" fill="#fff" textLength="197" lengthAdjust="spacingAndGlyphs">Global (USD)</text>
<text x="1597" y="383.9" font-size="43.5" font-weight="bold" fill="#fff" textLength="132" lengthAdjust="spacingAndGlyphs">28,6 %</text>
<rect x="88" y="758" width="45" height="5" fill="#ED7D31"/>
<text x="134.3" y="766.4" font-size="22" fill="#6D6D6D" stroke="#6D6D6D" stroke-width="0.35" textLength="280" lengthAdjust="spacingAndGlyphs">Stockholmsbörsen (SIXRX)</text>
<rect x="425" y="758" width="45" height="5" fill="#229ABA"/>
<text x="472.4" y="766.4" font-size="22" fill="#6D6D6D" stroke="#6D6D6D" stroke-width="0.35" textLength="437" lengthAdjust="spacingAndGlyphs">MSCI World Gross (inkl. utdelningar) USD</text>
<rect x="922" y="758" width="45" height="5" fill="#A5A5A5"/>
<text x="969.3" y="766.4" font-size="22" fill="#6D6D6D" stroke="#6D6D6D" stroke-width="0.35" textLength="431" lengthAdjust="spacingAndGlyphs">MSCI World Gross (inkl. utdelningar) SEK</text>
<path d="M1478.1 697.9Q1486.4 711.5 1476.1 723.7Q1467.8 710.1 1478.1 697.9ZM1503.2 698.6Q1502.6 718.0 1484.0 723.7Q1484.6 704.2 1503.2 698.6ZM1523.0 708.5Q1513.9 730.0 1490.6 728.3Q1499.7 706.7 1523.0 708.5ZM1532.9 730.3Q1514.6 747.4 1492.6 735.5Q1510.8 718.4 1532.9 730.3ZM1526.3 758.0Q1502.7 763.5 1490.0 742.8Q1513.6 737.3 1526.3 758.0ZM1502.5 782.4Q1480.5 774.2 1481.4 750.7Q1503.4 759.0 1502.5 782.4ZM1469.5 791.7Q1457.7 771.1 1473.5 753.4Q1485.3 773.9 1469.5 791.7ZM1440.5 785.0Q1440.5 760.0 1464.2 752.0Q1464.2 777.1 1440.5 785.0ZM1425.9 765.9Q1435.6 744.5 1458.9 746.8Q1449.3 768.2 1425.9 765.9ZM1425.9 742.8Q1440.6 729.7 1457.6 739.5Q1443.0 752.6 1425.9 742.8ZM1436.5 722.3Q1452.6 718.3 1461.6 732.2Q1445.5 736.3 1436.5 722.3ZM1454.3 706.5Q1468.7 711.2 1468.8 726.3Q1454.5 721.6 1454.3 706.5Z" fill="#2196BD"/>
<text transform="translate(1546.5,742.3) scale(0.872,1)" font-size="45" font-weight="bold" fill="#2196BD" stroke="#2196BD" stroke-width="1.2">RikaTillsammans</text>
<text transform="translate(1546,774.7) scale(0.93,1)" font-style="italic" font-weight="bold" font-size="25" fill="#A8A8A8" stroke="#A8A8A8" stroke-width="0.7" style="font-family:'Liberation Serif',serif">med Jan och Caroline Bolmeson</text>
</svg></body></html>
